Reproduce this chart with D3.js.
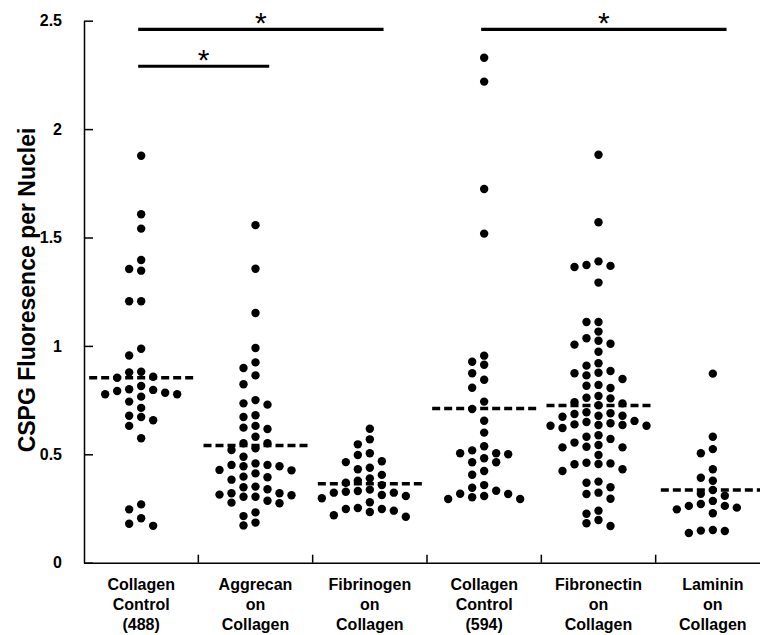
<!DOCTYPE html>
<html>
<head>
<meta charset="utf-8">
<script src="https://cdn.jsdelivr.net/npm/d3@7"></script>
<style>
  html, body { margin: 0; padding: 0; background: #fff; }
  svg { display: block; }
  text { font-family: "Liberation Sans", Arial, Helvetica, sans-serif; }
</style>
</head>
<body>
<svg id="chart" width="760" height="635"></svg>
<script>
// ---------- data ----------
const categories = ["Collagen Control (488)", "Aggrecan on Collagen", "Fibrinogen on Collagen",
                    "Collagen Control (594)", "Fibronectin on Collagen", "Laminin on Collagen"];
const categoryLines = [["Collagen", "Control", "(488)"], ["Aggrecan", "on", "Collagen"],
                       ["Fibrinogen", "on", "Collagen"], ["Collagen", "Control", "(594)"],
                       ["Fibronectin", "on", "Collagen"], ["Laminin", "on", "Collagen"]];

const collagenControl488 = [1.877, 1.607, 1.541, 1.396, 1.355, 1.347, 1.206, 1.206, 0.987, 0.956,
  0.881, 0.878, 0.853, 0.858, 0.815, 0.797, 0.784, 0.777, 0.743, 0.766, 0.777, 0.792, 0.800,
  0.714, 0.672, 0.657, 0.678, 0.631, 0.574, 0.269, 0.246, 0.205, 0.180, 0.170];

const aggrecanOnCollagen = [1.557, 1.356, 1.152, 0.990, 0.924, 0.898, 0.864, 0.823, 0.750, 0.735,
  0.729, 0.680, 0.672, 0.631, 0.623, 0.617, 0.581, 0.551, 0.551, 0.528, 0.520, 0.489, 0.458,
  0.451, 0.451, 0.445, 0.445, 0.428, 0.426, 0.412, 0.397, 0.394, 0.383, 0.351, 0.348, 0.339,
  0.320, 0.320, 0.314, 0.311, 0.304, 0.304, 0.286, 0.277, 0.274, 0.232, 0.215, 0.185, 0.172];

const fibrinogenOnCollagen = [0.618, 0.569, 0.546, 0.505, 0.497, 0.468, 0.464, 0.438, 0.431, 0.405,
  0.389, 0.378, 0.369, 0.358, 0.337, 0.331, 0.327, 0.323, 0.323, 0.312, 0.308, 0.297, 0.279,
  0.252, 0.248, 0.248, 0.240, 0.234, 0.219, 0.212];

const collagenControl594 = [2.329, 2.219, 1.724, 1.518, 0.955, 0.927, 0.913, 0.874, 0.844, 0.807,
  0.743, 0.709, 0.655, 0.600, 0.537, 0.518, 0.505, 0.505, 0.500, 0.482, 0.463, 0.463, 0.423,
  0.406, 0.358, 0.346, 0.332, 0.318, 0.317, 0.308, 0.302, 0.294, 0.294];

const fibronectinOnCollagen = [1.882, 1.570, 1.390, 1.373, 1.369, 1.364, 1.292, 1.110, 1.110, 1.066,
  1.035, 1.024, 1.010, 1.006, 0.973, 0.920, 0.909, 0.884, 0.876, 0.874, 0.864, 0.847, 0.820,
  0.816, 0.806, 0.769, 0.761, 0.758, 0.740, 0.735, 0.726, 0.694, 0.689, 0.686, 0.678, 0.678,
  0.673, 0.654, 0.649, 0.643, 0.638, 0.635, 0.635, 0.632, 0.632, 0.621, 0.588, 0.581, 0.571,
  0.554, 0.543, 0.535, 0.532, 0.532, 0.497, 0.461, 0.458, 0.455, 0.454, 0.431, 0.423, 0.374,
  0.369, 0.348, 0.323, 0.317, 0.295, 0.240, 0.226, 0.197, 0.182, 0.169];

const lamininOnCollagen = [0.872, 0.581, 0.524, 0.505, 0.431, 0.392, 0.378, 0.335, 0.318, 0.309,
  0.285, 0.271, 0.262, 0.262, 0.254, 0.246, 0.228, 0.151, 0.148, 0.146, 0.137];

const seriesValues = [collagenControl488, aggrecanOnCollagen, fibrinogenOnCollagen,
                      collagenControl594, fibronectinOnCollagen, lamininOnCollagen];

const yTicks = [0, 0.5, 1, 1.5, 2, 2.5];
const yTickLabels = ["0", "0.5", "1", "1.5", "2", "2.5"];
const yTitle = "CSPG Fluoresence per Nuclei";

// significance comparisons: category indices and bar level (in y units)
const sigFrom = [0, 0, 3];
const sigTo = [2, 1, 5];
const sigLevel = [2.46, 2.29, 2.46];
const sigLabel = ["*", "*", "*"];

// ---------- drawing ----------
const svg = d3.select("#chart");
const x = d3.scaleBand().domain(categories).range([84, 770]).padding(0);
const y = d3.scaleLinear().domain([0, 2.5]).range([562.7, 20.7]);
const bw = x.bandwidth();
const cx = c => x(c) + bw / 2;

// dots: quantised column swarm
const slotW = 12, minGap = 9, r = 4.2;
const slotOrder = [0, -1, 1, -2, 2, -3, 3, -4, 4, -5, 5, -6, 6, -7, 7];
const dots = [];
seriesValues.forEach((vals, ci) => {
  const cat = categories[ci];
  const pts = vals.map(v => ({ v, py: y(v) })).sort((a, b) => b.v - a.v);
  const placed = [];
  pts.forEach(p => {
    for (const s of slotOrder) {
      if (!placed.some(q => q.slot === s && Math.abs(q.py - p.py) < minGap)) { p.slot = s; break; }
    }
    placed.push(p);
    dots.push({ cat, v: p.v, slot: p.slot });
  });
});

svg.append("g").selectAll("circle").data(dots).join("circle")
  .attr("cx", d => cx(d.cat) + d.slot * slotW)
  .attr("cy", d => y(d.v))
  .attr("r", r)
  .attr("fill", "#000");

// mean dashed lines
const means = seriesValues.map(v => d3.mean(v));
svg.append("g").selectAll("line").data(categories).join("line")
  .attr("x1", c => cx(c) - 52)
  .attr("x2", c => cx(c) + 52)
  .attr("y1", (c, i) => y(means[i]))
  .attr("y2", (c, i) => y(means[i]))
  .attr("stroke", "#000")
  .attr("stroke-width", 3.5)
  .attr("stroke-dasharray", "8,4");

// y axis
const yAxis = d3.axisLeft(y).tickValues(yTicks)
  .tickFormat((d, i) => yTickLabels[i])
  .tickSizeInner(-9).tickSizeOuter(0).tickPadding(22);
const gy = svg.append("g").attr("transform", "translate(84,0)").call(yAxis);
gy.selectAll("path, line").attr("stroke", "#000").attr("stroke-width", 1.5);
gy.selectAll("text").attr("font-size", 16).attr("font-weight", "bold").attr("fill", "#000")
  .attr("font-family", "'Liberation Sans', Arial, sans-serif");

// x axis
const xAxis = d3.axisBottom(x).tickSizeInner(0).tickSizeOuter(0).tickFormat("");
const gx = svg.append("g").attr("transform", `translate(0,${y(0)})`).call(xAxis);
gx.select("path").attr("stroke", "#000").attr("stroke-width", 1.5);
gx.selectAll(".tick").remove();
svg.append("g").selectAll("line").data(categories.slice(1)).join("line")
  .attr("x1", c => x(c)).attr("x2", c => x(c))
  .attr("y1", y(0)).attr("y2", y(0) - 8)
  .attr("stroke", "#000").attr("stroke-width", 1.5);

// category labels
const lab = svg.append("g").selectAll("text").data(categories).join("text")
  .attr("text-anchor", "middle")
  .attr("font-size", 16).attr("font-weight", "bold").attr("fill", "#000");
lab.each(function (c, i) {
  const t = d3.select(this);
  categoryLines[i].forEach((ln, j) => {
    t.append("tspan").attr("x", cx(c)).attr("y", 590 + j * 20).text(ln);
  });
});

// y title
svg.append("text")
  .attr("transform", "translate(35,290) rotate(-90)")
  .attr("text-anchor", "middle")
  .attr("font-size", 23).attr("font-weight", "bold").attr("fill", "#000")
  .text(yTitle);

// significance bars
const sig = sigFrom.map((f, i) => ({ f, t: sigTo[i], lv: sigLevel[i], lab: sigLabel[i] }));
const gs = svg.append("g");
gs.selectAll("line").data(sig).join("line")
  .attr("x1", d => cx(categories[d.f]) - 3)
  .attr("x2", d => cx(categories[d.t]) + bw * 0.12)
  .attr("y1", d => y(d.lv)).attr("y2", d => y(d.lv))
  .attr("stroke", "#000").attr("stroke-width", 3.2);
gs.selectAll("text").data(sig).join("text")
  .attr("x", d => (cx(categories[d.f]) - 3 + cx(categories[d.t]) + bw * 0.12) / 2)
  .attr("y", d => y(d.lv) + 4)
  .attr("text-anchor", "middle")
  .attr("font-family", "'DejaVu Sans', sans-serif")
  .attr("font-size", 30).attr("fill", "#000")
  .text(d => d.lab);
</script>
</body>
</html>
